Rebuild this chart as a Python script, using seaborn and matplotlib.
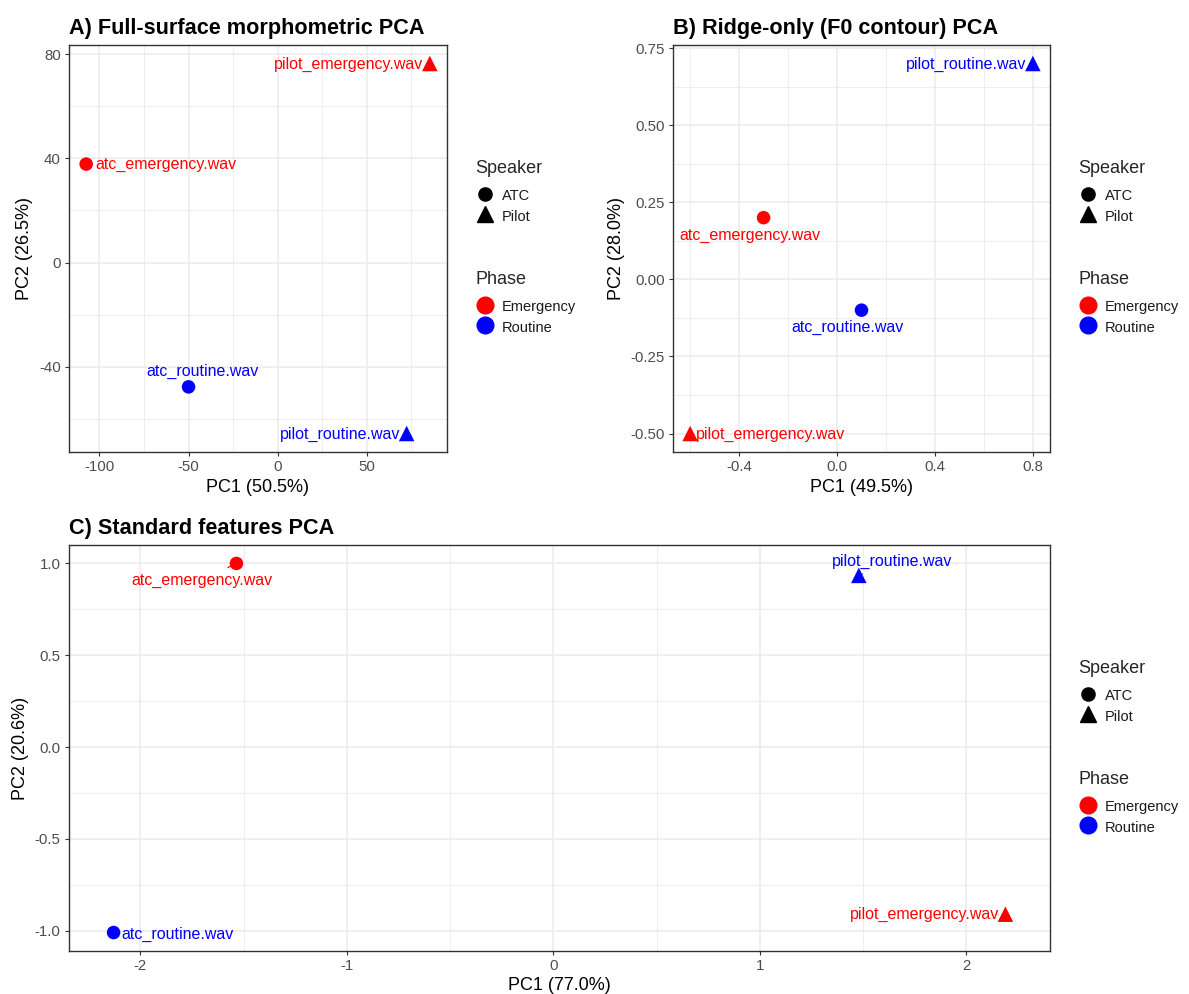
import numpy as np
import pandas as pd
import matplotlib
matplotlib.use("Agg")
import matplotlib.pyplot as plt
from matplotlib.lines import Line2D
from matplotlib.ticker import AutoMinorLocator, FormatStrFormatter
import seaborn as sns

# ---- data ----
files = ["atc_emergency.wav", "atc_routine.wav", "pilot_emergency.wav", "pilot_routine.wav"]
speaker = ["ATC", "ATC", "Pilot", "Pilot"]
phase = ["Emergency", "Routine", "Emergency", "Routine"]

pc1_full = [-107.4, -50.0, 85.3, 72.3]
pc2_full = [37.8, -47.7, 76.4, -65.6]

pc1_ridge = [-0.30, 0.10, -0.60, 0.80]
pc2_ridge = [0.20, -0.10, -0.50, 0.70]

pc1_std = [-1.535, -2.13, 2.19, 1.48]
pc2_std = [1.00, -1.01, -0.91, 0.935]

panels = [
    ("A) Full-surface morphometric PCA", pc1_full, pc2_full, "PC1 (50.5%)", "PC2 (26.5%)"),
    ("B) Ridge-only (F0 contour) PCA", pc1_ridge, pc2_ridge, "PC1 (49.5%)", "PC2 (28.0%)"),
    ("C) Standard features PCA", pc1_std, pc2_std, "PC1 (77.0%)", "PC2 (20.6%)"),
]

# label offsets (points), alignment and whether a segment is drawn, in file order
label_pos = [
    [((6.5, -0.5), "left", False), ((10, 11), "center", False), ((-4.5, -1), "right", False), ((-4.5, -1), "right", False)],
    [((-10, -12.5), "center", False), ((-10, -12.5), "center", False), ((4.5, -1), "left", False), ((-4.5, -1), "right", False)],
    [((-25, -12), "center", True), ((5.5, -1), "left", False), ((-4.5, 0), "right", False), ((24, 10), "center", True)],
]

palette = {"Emergency": "#FF0000", "Routine": "#0000FF"}
markers = {"ATC": "o", "Pilot": "^"}
point_size = {"ATC": 95, "Pilot": 125}

sns.set_theme(style="white")
plt.rcParams["font.family"] = ["Liberation Sans", "DejaVu Sans"]
plt.rcParams["axes.unicode_minus"] = False

fig = plt.figure(figsize=(11.89, 9.94), dpi=100)
W, H = 1189, 994

# axes rectangles in pixels: left, top, right, bottom
rects = [(69, 45, 447, 452), (673, 45, 1050, 452), (69, 545, 1050, 951)]
legend_x = [465, 1068, 1068]
legend_top = [(150, 261), (150, 261), (650, 761)]

for i, (title, x, y, xl, yl) in enumerate(panels):
    l, t, r, b = rects[i]
    ax = fig.add_axes([l / W, 1 - b / H, (r - l) / W, (b - t) / H])
    df = pd.DataFrame({"file": files, "Speaker": speaker, "Phase": phase, "PC1": x, "PC2": y})
    for spk, sub in df.groupby("Speaker"):
        sns.scatterplot(data=sub, x="PC1", y="PC2", hue="Phase", palette=palette,
                        marker=markers[spk], s=point_size[spk], edgecolor="none",
                        legend=False, ax=ax, zorder=3)

    for j, row in df.iterrows():
        (dx, dy), ha, seg = label_pos[i][j]
        col = palette[row["Phase"]]
        ax.annotate(row["file"], (row["PC1"], row["PC2"]), xytext=(dx, dy),
                    textcoords="offset points", ha=ha, va="center", color=col,
                    fontsize=11.5, zorder=4,
                    arrowprops=dict(arrowstyle="-", color=col, lw=0.9,
                                    shrinkA=3, shrinkB=4) if seg else None)

    # theme_bw look
    ax.grid(True, which="major", color="#EBEBEB", lw=1.1)
    ax.grid(True, which="minor", color="#EBEBEB", lw=0.6)
    ax.set_axisbelow(True)
    for sp in ax.spines.values():
        sp.set_color("#333333")
        sp.set_linewidth(1.0)

    if i == 0:
        ax.set_xticks([-100, -50, 0, 50])
        ax.set_yticks([-40, 0, 40, 80])
    elif i == 1:
        ax.set_xticks([-0.4, 0.0, 0.4, 0.8])
        ax.set_yticks([-0.5, -0.25, 0.0, 0.25, 0.5, 0.75])
        ax.xaxis.set_major_formatter(FormatStrFormatter("%.1f"))
        ax.yaxis.set_major_formatter(FormatStrFormatter("%.2f"))
    else:
        ax.set_xticks([-2, -1, 0, 1, 2])
        ax.set_yticks([-1.0, -0.5, 0.0, 0.5, 1.0])
        ax.yaxis.set_major_formatter(FormatStrFormatter("%.1f"))
    ax.xaxis.set_minor_locator(AutoMinorLocator(2))
    ax.yaxis.set_minor_locator(AutoMinorLocator(2))

    ax.tick_params(which="major", direction="out", length=2.8, width=0.8, color="#333333",
                   labelsize=10.8, labelcolor="#4D4D4D", bottom=True, left=True, pad=3.2)
    ax.tick_params(which="minor", length=0)
    ax.set_xlabel(xl, fontsize=13, color="black", labelpad=3)
    ax.set_ylabel(yl, fontsize=13, color="black", labelpad=4)
    ax.set_title(title, loc="left", fontsize=15.6, fontweight="bold", pad=8, color="black")

    # two separate legends like ggplot
    sp_handles = [Line2D([], [], marker="o", color="black", ls="none", markersize=9.5),
                  Line2D([], [], marker="^", color="black", ls="none", markersize=11)]
    ph_handles = [Line2D([], [], marker="o", color=palette[k], ls="none", markersize=12)
                  for k in ["Emergency", "Routine"]]
    for handles, labels, name, top in [(sp_handles, ["ATC", "Pilot"], "Speaker", legend_top[i][0]),
                                       (ph_handles, ["Emergency", "Routine"], "Phase", legend_top[i][1])]:
        leg = fig.legend(handles, labels, title=name, loc="upper left",
                         bbox_to_anchor=(legend_x[i] / W, 1 - top / H),
                         bbox_transform=fig.transFigure, frameon=False,
                         fontsize=10.5, title_fontsize=13, handletextpad=0.55,
                         labelspacing=0.25, handleheight=1.4, borderpad=0.2,
                         handlelength=1.3)
        leg._legend_box.align = "left"
        leg._legend_box.sep = 7
        for txt in leg.get_texts():
            txt.set_color("#1A1A1A")

fig.savefig("out.png", dpi=100, facecolor="white")
